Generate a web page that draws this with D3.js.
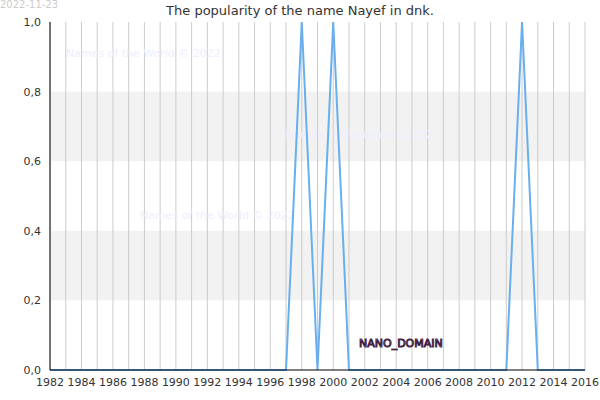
<!DOCTYPE html>
<html>
<head>
<meta charset="utf-8">
<script src="https://cdn.jsdelivr.net/npm/d3@7"></script>
<style>
  body { margin: 0; background: #fff; }
  text { font-family: "DejaVu Sans", sans-serif; }
</style>
</head>
<body>
<svg id="chart" width="600" height="400"></svg>
<script>
const years = d3.range(1982, 2017);
const spikeYears = [1998, 2000, 2012];
const values = years.map(function (y) { return spikeYears.includes(y) ? 1 : 0; });
const yTicks = [0, 0.2, 0.4, 0.6, 0.8, 1.0];
const xTicks = d3.range(1982, 2017, 2);
const bands = [[0.2, 0.4], [0.6, 0.8]];

const mLeft = 50, mRight = 585, mTop = 22, mBottom = 370;
const svg = d3.select("#chart");
const x = d3.scaleLinear().domain([1982, 2016]).range([mLeft, mRight]);
const y = d3.scaleLinear().domain([0, 1]).range([mBottom, mTop]);

// bands
svg.selectAll("rect.band")
  .data(bands)
  .enter()
  .append("rect")
  .attr("x", mLeft)
  .attr("width", mRight - mLeft)
  .attr("y", function (d) { return y(d[1]); })
  .attr("height", function (d) { return y(d[0]) - y(d[1]); })
  .attr("fill", "#f2f2f2");

// vertical grid every year
svg.selectAll("line.grid")
  .data(years)
  .enter()
  .append("line")
  .attr("x1", function (d) { return x(d); })
  .attr("x2", function (d) { return x(d); })
  .attr("y1", mTop)
  .attr("y2", mBottom)
  .attr("stroke", "#cccccc")
  .attr("stroke-width", 1);

// watermarks
const marks = [[66, 57], [285, 138], [140, 219]];
svg.selectAll("text.wm")
  .data(marks)
  .enter()
  .append("text")
  .attr("x", function (d) { return d[0]; })
  .attr("y", function (d) { return d[1]; })
  .attr("font-size", 11)
  .attr("fill", "#eeeeff")
  .text("Names of the World © 2022");

// line
svg.append("path")
  .datum(years.map(function (yr, i) { return [yr, values[i]]; }))
  .attr("fill", "none")
  .attr("stroke", "#6aaeee")
  .attr("stroke-width", 2)
  .attr("d", d3.line().x(function (d) { return x(d[0]); }).y(function (d) { return y(d[1]); }));

// axes lines
svg.append("line").attr("x1", mLeft).attr("x2", mLeft).attr("y1", mTop).attr("y2", mBottom).attr("stroke", "#000");
svg.append("line").attr("x1", mLeft).attr("x2", mRight).attr("y1", mBottom).attr("y2", mBottom).attr("stroke", "#000");

// y tick labels
svg.selectAll("text.yt")
  .data(yTicks)
  .enter()
  .append("text")
  .attr("x", mLeft - 9)
  .attr("y", function (d) { return y(d) + 4; })
  .attr("text-anchor", "end")
  .attr("font-size", 11)
  .attr("fill", "#333")
  .text(function (d) { return d.toFixed(1).replace(".", ","); });

// x tick labels
svg.selectAll("text.xt")
  .data(xTicks)
  .enter()
  .append("text")
  .attr("x", function (d) { return x(d); })
  .attr("y", mBottom + 16)
  .attr("text-anchor", "middle")
  .attr("font-size", 11)
  .attr("fill", "#333")
  .text(function (d) { return d; });

svg.append("text")
  .attr("x", 300).attr("y", 15)
  .attr("text-anchor", "middle")
  .attr("font-size", 13)
  .attr("fill", "#333")
  .text("The popularity of the name Nayef in dnk.");

svg.append("text")
  .attr("x", 0).attr("y", 8)
  .attr("font-size", 10)
  .attr("fill", "#cccccc")
  .text("2022-11-23");

svg.append("text")
  .attr("x", 359).attr("y", 347)
  .attr("font-size", 11)
  .attr("fill", "#ffffff")
  .attr("stroke", "#442244")
  .attr("stroke-width", 1)
  .attr("paint-order", "fill")
  .text("NANO_DOMAIN");
</script>
</body>
</html>
